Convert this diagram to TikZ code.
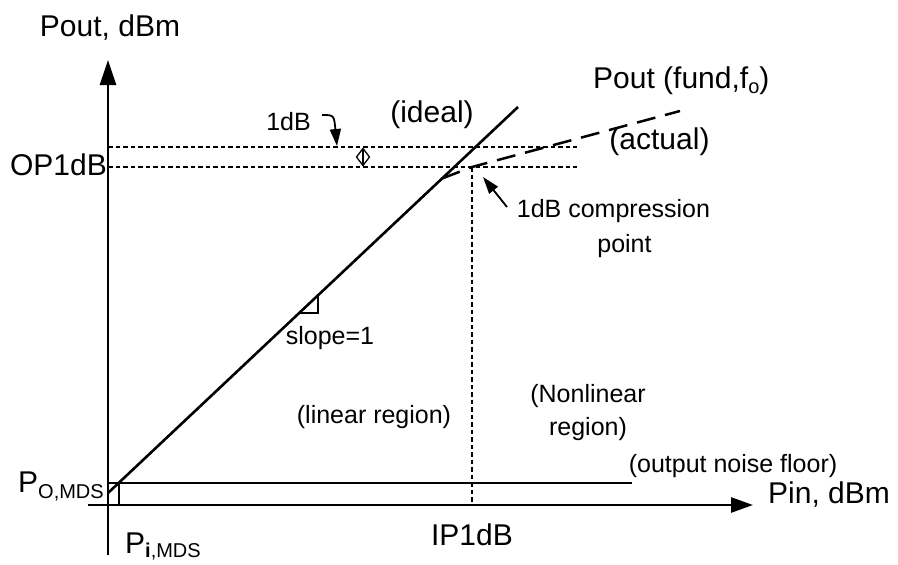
\documentclass[tikz,border=0pt]{standalone}
\usepackage{fontspec}
\setmainfont{Liberation Sans}
\usetikzlibrary{arrows.meta}
\begin{document}
\begin{tikzpicture}[x=1pt,y=-1pt,
  big/.style={font=\fontsize{30}{34}\selectfont, inner sep=0pt},
  small/.style={font=\fontsize{25}{30}\selectfont, inner sep=0pt},
  mainline/.style={line width=2.6pt},
  dotline/.style={line width=2.2pt, dash pattern=on 4.5pt off 3pt},
  dashline/.style={line width=2.5pt, dash pattern=on 19pt off 10pt},
  bighead/.style={-{Triangle[width=16pt,length=25pt]}},
  smallhead/.style={-{Triangle[width=11pt,length=17pt]}}]
\useasboundingbox (0,0) rectangle (898,565);
% coordinates
\coordinate (ybot) at (108,555);
\coordinate (ytop) at (108,60);
\coordinate (xleft) at (88,505);
\coordinate (xright) at (753,505);
\coordinate (nfL) at (108,483);
\coordinate (nfR) at (632,483);
\coordinate (sqT) at (119,483);
\coordinate (sqB) at (119,505);
\coordinate (idS) at (108,493);
\coordinate (idE) at (518,107);
\coordinate (u1) at (108,147);
\coordinate (u2) at (577,147);
\coordinate (l1) at (108,167);
\coordinate (l2) at (577,167);
\coordinate (cp) at (472,167);
\coordinate (cpB) at (472,505);
\coordinate (acS) at (442,178.5);
\coordinate (acE) at (680,111);
% axes
\draw[mainline,bighead] (ybot) -- (ytop);
\draw[mainline,-{Triangle[width=15pt,length=22pt]}] (xleft) -- (xright);
% noise floor and small square
\draw[mainline] (nfL) -- (nfR);
\draw[mainline] (sqT) -- (sqB);
% ideal line
\draw[mainline] (idS) -- (idE);
% slope triangle
\coordinate (t1) at (299,313);
\coordinate (t2) at (318,313);
\coordinate (t3) at (318,295.3);
\draw[line width=1.6pt] (t1) -- (t2) -- (t3);
% dotted lines
\draw[dotline] (u1) -- (u2);
\draw[dotline] (l1) -- (l2);
\draw[dotline] (cp) -- (cpB);
% actual curve
\draw[dashline] (acS) -- (cp) -- (acE);
% 1dB marker
\coordinate (dT) at (363,148.5);
\coordinate (dR) at (369.5,157);
\coordinate (dB) at (363,165.5);
\coordinate (dL) at (356.5,157);
\draw[line width=1.3pt] (dT) -- (dR) -- (dB) -- (dL) -- cycle;
\draw[line width=1.3pt] (dT) -- (dB);
% 1dB curved arrow
\coordinate (ca1) at (322,115);
\coordinate (ca2) at (337,146);
\draw[line width=1.8pt,smallhead] (ca1) .. controls (334,115) .. (ca2);
% compression point arrow
\coordinate (cpa1) at (507,207);
\coordinate (cpa2) at (483,177);
\draw[line width=1.8pt,smallhead] (cpa1) -- (cpa2);
% labels
\node[big,anchor=base] (lpout) at (110,36) {Pout, dBm};
\node[big,anchor=base west] (lpin) at (768,503) {Pin, dBm};
\node[big,anchor=base east] (lop) at (107,175) {OP1dB};
\node[big,anchor=base] (lip) at (472,545) {IP1dB};
\node[big,anchor=base] (lideal) at (432,122) {(ideal)};
\node[big,anchor=base] (lactual) at (659.5,149) {(actual)};
\node[big,anchor=base west] (lfund) at (593,88) {Pout (fund,f\raisebox{-5pt}{\fontsize{20}{20}\selectfont o})};
\node[small,anchor=base] (lcomp) at (613.5,217) {1dB compression};
\node[small,anchor=base] (lpoint) at (624.5,252) {point};
\node[small,anchor=base] (l1db) at (288.5,130) {1dB};
\node[small,anchor=base] (lslope) at (330,344) {slope=1};
\node[small,anchor=base] (llin) at (374,423) {(linear region)};
\node[small,anchor=base] (lnl1) at (588,402) {(Nonlinear};
\node[small,anchor=base] (lnl2) at (588,435) {region)};
\node[small,anchor=base] (lnf) at (733,472) {(output noise floor)};
\node[big,anchor=base west] (lpo) at (18,492) {P\raisebox{-6pt}{\fontsize{20}{20}\selectfont O,MDS}};
\node[big,anchor=base west] (lpi) at (125,553) {P\raisebox{-4pt}{\fontsize{20}{20}\selectfont \textbf{i},MDS}};
\end{tikzpicture}
\end{document}
